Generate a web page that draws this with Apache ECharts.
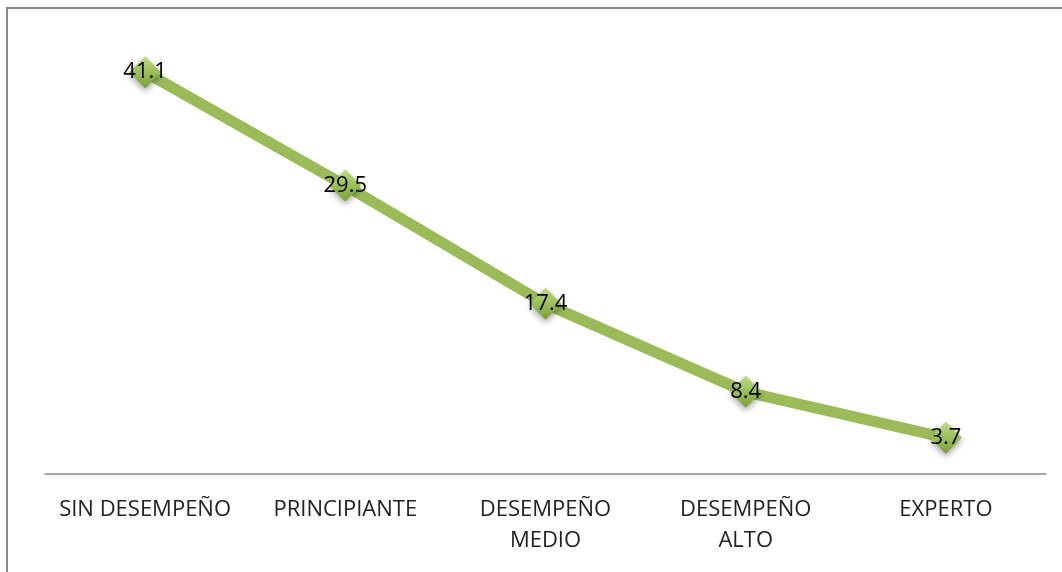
<!DOCTYPE html>
<html>
<head>
<meta charset="utf-8">
<script src="https://cdn.jsdelivr.net/npm/echarts@6/dist/echarts.min.js"></script>
<style>
    html, body { margin: 0; padding: 0; background: #fff; }
    #chart { width: 1062px; height: 572px; }
</style>
</head>
<body>
<div id="chart"></div>
<script>
"use strict"

// 数据
let categories = ["SIN DESEMPEÑO", "PRINCIPIANTE", "DESEMPEÑO\nMEDIO", "DESEMPEÑO\nALTO", "EXPERTO"];
let values = [41.1, 29.5, 17.4, 8.4, 3.7];

// 折线图
function zhexian() {
    var myChart = echarts.init(document.getElementById("chart"));
    var option = {
        backgroundColor: "#fff",
        animation: false,
        graphic: [{
            type: "polyline",
            shape: { points: [[7, 572], [7, 8], [1062, 8]] },
            style: { stroke: "#8a8a8a", lineWidth: 2, fill: null }
        }],
        grid: {
            left: 45,
            right: 16,
            top: 34,
            bottom: 98
        },
        xAxis: {
            type: "category",
            data: categories,
            axisLine: { lineStyle: { color: "#8c8c8c", width: 1.5 } },
            axisTick: { show: false },
            axisLabel: {
                interval: 0,
                color: "#222",
                fontFamily: "Open Sans",
                fontSize: 22,
                lineHeight: 31,
                margin: 20
            }
        },
        yAxis: {
            type: "value",
            min: 0,
            max: 45,
            show: false,
            splitLine: { show: false }
        },
        series: [{
            type: "line",
            data: values,
            symbol: "diamond",
            symbolSize: 32,
            lineStyle: { color: "#9bbb59", width: 11 },
            itemStyle: {
                color: new echarts.graphic.LinearGradient(0, 0, 0, 1, [
                    { offset: 0, color: "#bedd80" },
                    { offset: 1, color: "#78a034" }
                ]),
                shadowColor: "rgba(0,0,0,0.35)",
                shadowBlur: 6,
                shadowOffsetY: 3
            },
            label: {
                show: true,
                position: "inside",
                color: "#000",
                fontFamily: "Open Sans",
                fontSize: 22
            }
        }]
    };
    myChart.setOption(option);
}
zhexian();
</script>
</body>
</html>
